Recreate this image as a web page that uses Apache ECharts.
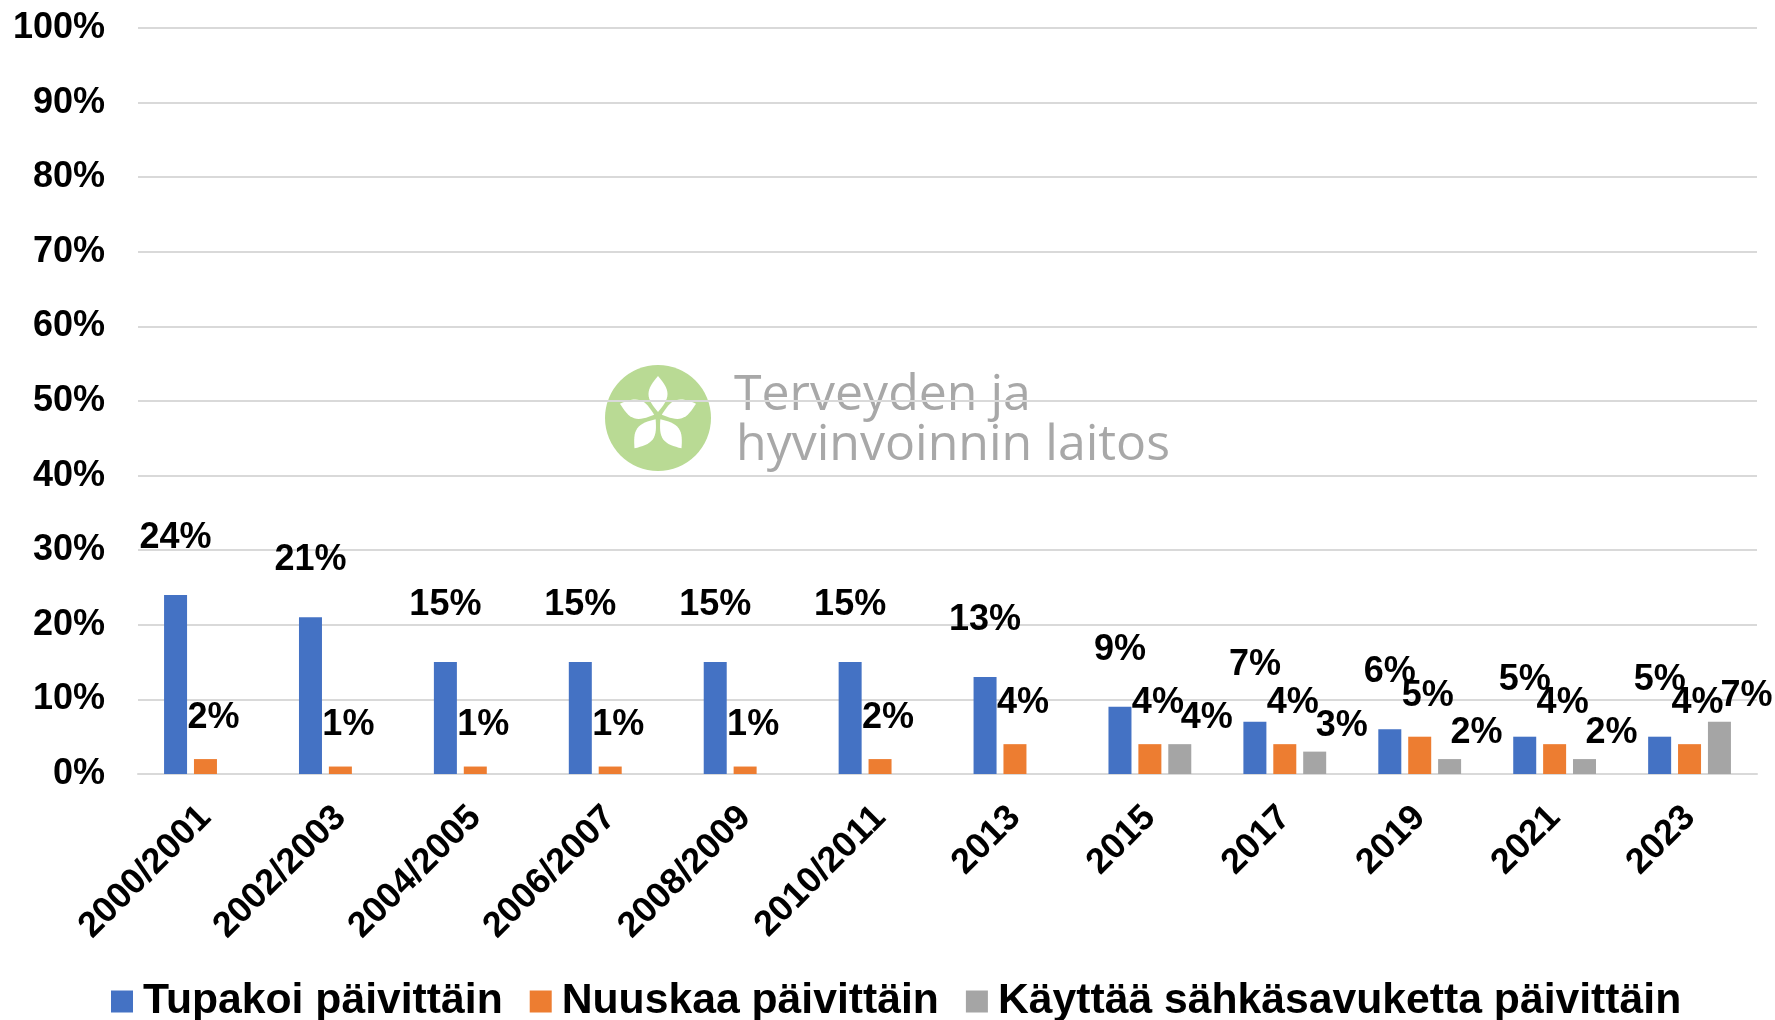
<!DOCTYPE html>
<html>
<head>
<meta charset="utf-8">
<script src="https://cdn.jsdelivr.net/npm/echarts@6/dist/echarts.min.js"></script>
<style>
  html, body { margin: 0; padding: 0; background: #fff; }
  #main { width: 1775px; height: 1020px; }
</style>
</head>
<body>
<div id="main"></div>
<script>
// vuodet / kyselykierrokset
const years = ['2000/2001', '2002/2003', '2004/2005', '2006/2007', '2008/2009', '2010/2011',
  '2013', '2015', '2017', '2019', '2021', '2023'];
// osuudet prosentteina
const smoking = [24, 21, 15, 15, 15, 15, 13, 9, 7, 6, 5, 5];
const snus = [2, 1, 1, 1, 1, 2, 4, 4, 4, 5, 4, 4];
const ecig = ['-', '-', '-', '-', '-', '-', '-', 4, 3, 2, 2, 7];
const seriesNames = ['Tupakoi päivittäin', 'Nuuskaa päivittäin', 'Käyttää sähkäsavuketta päivittäin'];
const yTicks = { min: 0, max: 100, step: 10 };

const font = '"Liberation Sans", Arial, sans-serif';
const labelStyle = { fontFamily: font, fontWeight: 'bold', fontSize: 36, color: '#000' };

// THL-logo taustalle (vesileima): viisi lehteä monikulmioina
function leaf(angle) {
  const pts = [];
  const n = 16;
  for (let i = 0; i <= n; i++) {
    const t = i / n;
    pts.push([9.5 * Math.sin(Math.PI * t), -(4 + 36 * t)]);
  }
  for (let i = n - 1; i > 0; i--) {
    const t = i / n;
    pts.push([-9.5 * Math.sin(Math.PI * t), -(4 + 36 * t)]);
  }
  const c = Math.cos(angle), s = Math.sin(angle);
  return pts.map(p => [p[0] * c - p[1] * s, p[0] * s + p[1] * c]);
}
const petals = [0, 1, 2, 3, 4].map(i => ({
  type: 'polygon',
  shape: { points: leaf(i * Math.PI * 2 / 5) },
  style: { fill: '#fff' }
}));

let myChart = echarts.init(document.getElementById('main'));
myChart.setOption({
  animation: false,
  color: ['#4472C4', '#ED7D31', '#A5A5A5'],
  grid: {
    left: 138, right: 18, top: 28, bottom: 246,
    containLabel: false, outerBoundsMode: 'none'
  },
  legend: {
    top: 975,
    left: 106,
    itemWidth: 22,
    itemHeight: 22,
    itemGap: 27,
    icon: 'rect',
    textStyle: { fontFamily: font, fontWeight: 'bold', fontSize: 42.7, color: '#000', padding: [0, 0, 0, 5] },
    data: seriesNames
  },
  graphic: [
    { type: 'circle', z: -10, silent: true, shape: { cx: 658, cy: 418, r: 53 }, style: { fill: '#B9DA94' } },
    { type: 'group', z: -9, silent: true, x: 658, y: 416, children: petals },
    { type: 'text', z: -9, silent: true, style: { text: 'Terveyden ja', x: 734, y: 396, verticalAlign: 'middle',
        fontFamily: '"Open Sans", sans-serif', fontSize: 50, fill: '#A8A8A8' } },
    { type: 'text', z: -9, silent: true, style: { text: 'hyvinvoinnin laitos', x: 736, y: 446, verticalAlign: 'middle',
        fontFamily: '"Open Sans", sans-serif', fontSize: 50, fill: '#A8A8A8', letterSpacing: 1 } }
  ],
  xAxis: {
    type: 'category',
    data: years,
    axisLine: { lineStyle: { color: '#D9D9D9', width: 2 } },
    axisTick: { show: false },
    axisLabel: Object.assign({ rotate: 45, margin: 38, interval: 0 }, labelStyle)
  },
  yAxis: {
    type: 'value',
    min: yTicks.min,
    max: yTicks.max,
    interval: yTicks.step,
    axisLine: { show: false },
    axisTick: { show: false },
    splitLine: { lineStyle: { color: '#D9D9D9', width: 2 } },
    axisLabel: Object.assign({ formatter: '{value}%', margin: 33, padding: [6, 0, 0, 0] }, labelStyle)
  },
  series: [
    {
      name: seriesNames[0], type: 'bar', data: smoking, barWidth: 23, barGap: '30%',
      label: Object.assign({ show: true, position: 'top', offset: [0, -34], formatter: '{c}%' }, labelStyle)
    },
    {
      name: seriesNames[1], type: 'bar', data: snus, barWidth: 23, barGap: '30%',
      label: Object.assign({ show: true, position: 'top', offset: [8, -18], formatter: '{c}%' }, labelStyle)
    },
    {
      name: seriesNames[2], type: 'bar', data: ecig, barWidth: 23, barGap: '30%',
      label: Object.assign({ show: true, position: 'top', offset: [27, -3], formatter: '{c}%' }, labelStyle)
    }
  ]
});
</script>
</body>
</html>
